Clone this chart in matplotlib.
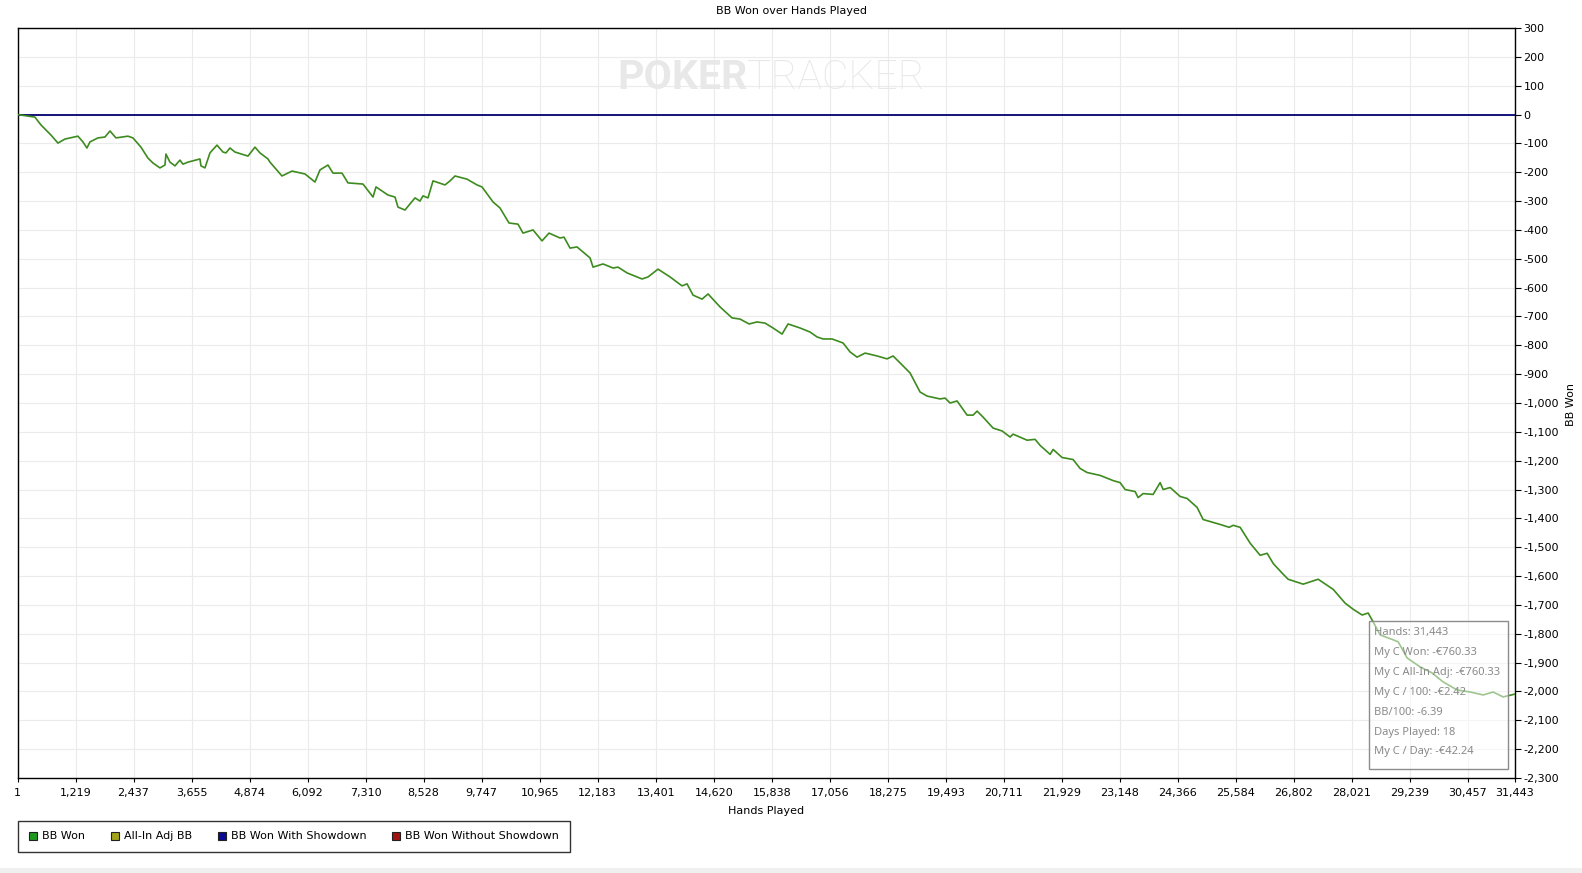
import matplotlib
matplotlib.use("Agg")
import matplotlib.pyplot as plt
from matplotlib.lines import Line2D
from matplotlib.patches import Rectangle
from matplotlib.ticker import FuncFormatter

plt.rcParams['font.family'] = ['DejaVu Sans']
plt.rcParams['axes.unicode_minus'] = False

# BB won (hands played, cumulative BB)
hands = [1, 367, 493, 703, 850, 997, 1270, 1375, 1459, 1522, 1690, 1837, 1942, 2068, 2320,
         2425, 2593, 2740, 2845, 2992, 3097, 3118, 3202, 3307, 3412, 3475, 3580, 3832, 3853,
         3937, 4042, 4189, 4315, 4378, 4462, 4567, 4840, 4987, 5092, 5260, 5302, 5554, 5764,
         6037, 6247, 6352, 6520, 6625, 6814, 6940, 7255, 7465, 7528, 7654, 7780, 7927, 7990,
         8137, 8347, 8452, 8515, 8620, 8725, 8977, 9082, 9187, 9439, 9649, 9754, 9985, 10132,
         10321, 10510, 10615, 10825, 11014, 11161, 11392, 11476, 11602, 11749, 12022, 12085,
         12295, 12505, 12610, 12799, 13114, 13240, 13450, 13702, 13954, 14059, 14185, 14374,
         14500, 14752, 15004, 15172, 15361, 15529, 15697, 15865, 16054, 16180, 16432, 16642,
         16789, 16915, 17104, 17335, 17482, 17629, 17797, 18049, 18259, 18385, 18532, 18742,
         18952, 19099, 19372, 19477, 19582, 19729, 19939, 20065, 20149, 20275, 20485, 20674,
         20842, 20905, 21199, 21367, 21472, 21682, 21745, 21934, 22165, 22312, 22459, 22732,
         23005, 23152, 23257, 23467, 23530, 23635, 23845, 23992, 24055, 24202, 24412, 24559,
         24769, 24895, 25105, 25252, 25441, 25525, 25672, 25882, 26092, 26239, 26365, 26554,
         26680, 26995, 27310, 27625, 27877, 28045, 28234, 28360, 28465, 28612, 28885, 28990,
         29179, 29452, 29704, 29935, 30229, 30502, 30775, 30985, 31195, 31443]
bb_won = [0, -9, -36, -71, -99, -85, -75, -95, -116, -95, -81, -78, -57, -81, -75,
          -81, -113, -151, -168, -185, -175, -137, -165, -178, -158, -172, -165, -154, -178,
          -185, -133, -106, -130, -133, -116, -130, -144, -113, -133, -154, -165, -213, -196,
          -206, -234, -192, -175, -203, -203, -237, -241, -286, -251, -265, -279, -286, -321,
          -331, -289, -300, -282, -289, -230, -244, -230, -213, -224, -244, -251, -303, -324,
          -376, -380, -411, -400, -438, -411, -428, -425, -463, -459, -497, -529,
          -518, -532, -529, -549, -570, -563, -536, -563, -594, -587, -626, -640,
          -622, -667, -705, -709, -726, -719, -723, -740, -761, -726, -740, -754,
          -771, -778, -778, -792, -823, -841, -827, -837, -847, -837, -861, -896,
          -962, -976, -986, -983, -1000, -993, -1042, -1042, -1028, -1049, -1087, -1097,
          -1118, -1108, -1129, -1126, -1147, -1178, -1161, -1189, -1196, -1227, -1241, -1251,
          -1269, -1276, -1300, -1307, -1328, -1314, -1317, -1276, -1300, -1293, -1324, -1331,
          -1362, -1404, -1414, -1421, -1431, -1424, -1431, -1486, -1528, -1521, -1556, -1590,
          -1611, -1628, -1611, -1646, -1694, -1715, -1735, -1728, -1759, -1804, -1821, -1828,
          -1884, -1915, -1936, -1967, -1995, -2002, -2012, -2002, -2019, -2009]

# BB won with showdown (flat at zero)
showdown_hands = [1, 31443]
showdown_bb = [0, 0]

x_ticks = [1, 1219, 2437, 3655, 4874, 6092, 7310, 8528, 9747, 10965, 12183, 13401, 14620,
           15838, 17056, 18275, 19493, 20711, 21929, 23148, 24366, 25584, 26802, 28021,
           29239, 30457, 31443]
y_ticks = list(range(-2300, 301, 100))

legend_labels = ['BB Won', 'All-In Adj BB', 'BB Won With Showdown', 'BB Won Without Showdown']
legend_colors = ['#1f9a1f', '#a3a31a', '#0a0a96', '#a01212']

tooltip_lines = ['Hands: 31,443', 'My C Won: -€760.33', 'My C All-In Adj: -€760.33',
                 'My C / 100: -€2.42', 'BB/100: -6.39', 'Days Played: 18', 'My C / Day: -€42.24']

W, H = 1582, 873
fig = plt.figure(figsize=(W / 100, H / 100), dpi=100)
ax = fig.add_axes([17.5 / W, 1 - 778 / H, (1515 - 17.5) / W, (778 - 28) / H])

ax.plot(showdown_hands, showdown_bb, color='#12127a', lw=1.4, zorder=3)
ax.plot(hands, bb_won, color='#3d8b1f', lw=1.2, zorder=4)

ax.set_xlim(1, 31443)
ax.set_ylim(-2300, 300)
ax.set_xticks(x_ticks)
ax.set_xticklabels(['{:,}'.format(v) for v in x_ticks])
ax.set_yticks(y_ticks)
ax.yaxis.set_major_formatter(FuncFormatter(lambda v, p: '{:,.0f}'.format(v)))
ax.yaxis.tick_right()
ax.tick_params(axis='y', direction='out', length=4, width=0.8, pad=2, labelsize=8)
ax.tick_params(axis='x', direction='out', length=3, width=0.8, pad=4.5, labelsize=8)
ax.grid(True, color='#ebebeb', lw=0.8)
ax.set_axisbelow(True)
for s in ax.spines.values():
    s.set_linewidth(1.0)
    s.set_color('black')
ax.set_xlabel('Hands Played', fontsize=8, labelpad=5.5)

fig.text(0.5, 1 - 11 / H, 'BB Won over Hands Played', ha='center', va='center', fontsize=8)
fig.text(1571 / W, 1 - 404 / H, 'BB Won', rotation=90, ha='center', va='center', fontsize=8)

# watermark
r = fig.canvas.get_renderer()
t1 = fig.text(617 / W, 1 - 78 / H, 'POKER', family='Roboto', weight='bold', fontsize=29.5,
              color='#e8e8e8', ha='left', va='center', zorder=0)
bb = t1.get_window_extent(renderer=r)
fig.text(bb.x1 / W, 1 - 78 / H, 'TRACKER', family='Roboto', weight='light', fontsize=29.5,
         color='#e8e8e8', ha='left', va='center', zorder=0)

# hover box
ax.add_patch(Rectangle((1369 / W, 1 - 769 / H), 139 / W, 148 / H, transform=fig.transFigure,
                       facecolor=(1, 1, 1, 0.5), edgecolor='#8c8c8c', lw=1, zorder=5))
for i, txt in enumerate(tooltip_lines):
    ax.text(1374 / W, 1 - (633 + i * 19.8) / H, txt, transform=fig.transFigure,
            family=['Noto Sans', 'DejaVu Sans'], fontsize=8, color='#8a8a8a',
            ha='left', va='center', zorder=6)

handles = [Line2D([], [], marker='s', ls='none', markersize=6, markerfacecolor=c,
                  markeredgecolor='#202020', markeredgewidth=0.8) for c in legend_colors]
leg = fig.legend(handles, legend_labels, loc='lower left', bbox_to_anchor=(18 / W, 1 - 852 / H),
                 ncol=4, fontsize=8, frameon=True, fancybox=False, borderaxespad=0,
                 handlelength=0.8, handletextpad=0.4, columnspacing=2.3, borderpad=0.95)
leg.get_frame().set_edgecolor('black')
leg.get_frame().set_linewidth(1.0)

fig.patches.append(Rectangle((0, 0), 1, 5 / H, transform=fig.transFigure,
                             facecolor='#f0f0f0', edgecolor='none'))

fig.savefig('out.png', dpi=100)
